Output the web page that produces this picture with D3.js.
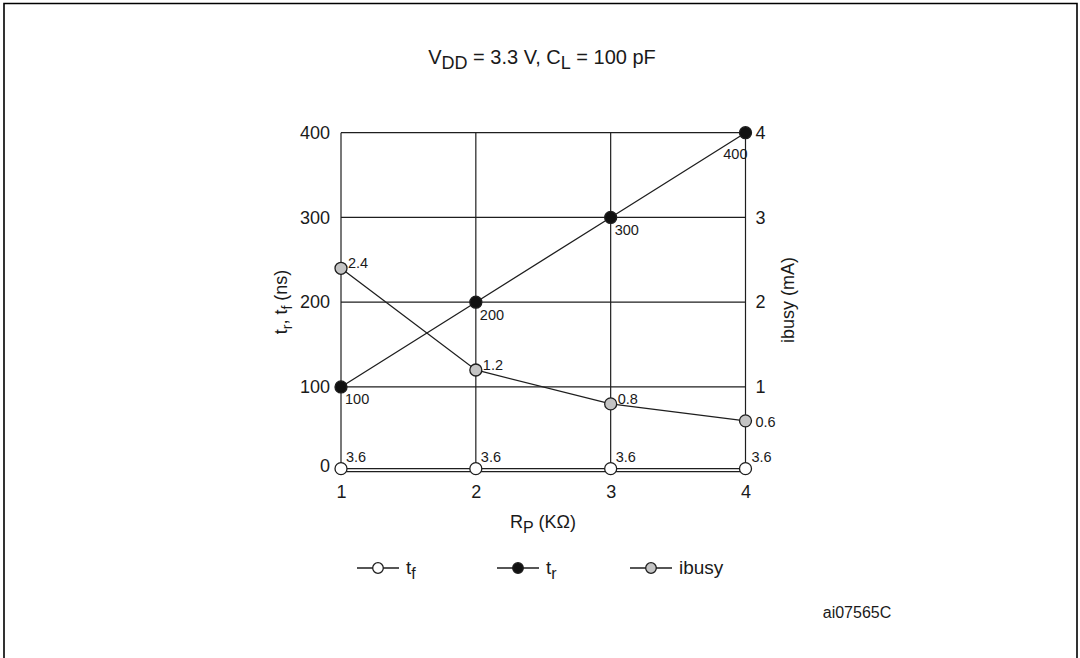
<!DOCTYPE html>
<html>
<head>
<meta charset="utf-8">
<script src="https://cdn.jsdelivr.net/npm/d3@7"></script>
<style>
  html, body { margin: 0; padding: 0; background: #fff; }
  svg text { font-family: "Liberation Sans", Arial, sans-serif; fill: #1a1a1a; }
</style>
</head>
<body>
<svg id="chart" width="1080" height="658"></svg>
<script>
// Pull-up resistance (kOhm) on the x axis
const rp = [1, 2, 3, 4];
// Fall time (ns), rise time (ns) and busy current (mA) at each resistance
const tf = [3.6, 3.6, 3.6, 3.6];
const tr = [100, 200, 300, 400];
const ibusy = [2.4, 1.2, 0.8, 0.6];
// Axis ticks
const leftTicks = [0, 100, 200, 300, 400];
const rightTicks = [1, 2, 3, 4];
const xTicks = [1, 2, 3, 4];

const svg = d3.select("#chart");

// Frame around the figure
svg.append("path")
  .attr("d", "M4,662 L4,3.5 L1077,3.5 L1077,662")
  .attr("fill", "none").attr("stroke", "#000").attr("stroke-width", 1.6);

const x = d3.scaleLinear().domain([1, 4]).range([341, 745.5]);
const y = d3.scaleLinear().domain([0, 400]).range([471.7, 132.7]);
const yR = d3.scaleLinear().domain([0, 4]).range([471.7, 132.7]);

const ink = "#1e1e1e";

// Grid
const grid = svg.append("g").attr("stroke", ink).attr("stroke-width", 1.2);
grid.selectAll("line.v").data(xTicks).join("line")
  .attr("x1", d => x(d)).attr("x2", d => x(d))
  .attr("y1", y(400)).attr("y2", y(0));
grid.selectAll("line.h").data(leftTicks).join("line")
  .attr("x1", x(1)).attr("x2", x(4))
  .attr("y1", d => y(d)).attr("y2", d => y(d));

// Axes (labels only; the grid draws the lines)
const fs = 18;
const leftAxis = svg.append("g").attr("transform", `translate(${x(1)},0)`)
  .call(d3.axisLeft(y).tickValues(leftTicks).tickSize(0).tickPadding(11));
const rightAxis = svg.append("g").attr("transform", `translate(${x(4)},0)`)
  .call(d3.axisRight(yR).tickValues(rightTicks).tickSize(0).tickPadding(10).tickFormat(d3.format("d")));
const bottomAxis = svg.append("g").attr("transform", `translate(0,${y(0)})`)
  .call(d3.axisBottom(x).tickValues(xTicks).tickSize(0).tickPadding(14).tickFormat(d3.format("d")));
[leftAxis, rightAxis, bottomAxis].forEach(g => {
  g.select(".domain").remove();
  g.selectAll("text").attr("font-size", fs)
    .attr("font-family", "'Liberation Sans', Arial, sans-serif").attr("fill", ink);
});
// the zero label sits a little higher, level with the t_f row
leftAxis.selectAll(".tick").filter(d => d === 0).select("text").attr("y", -6);

// Title
const title = svg.append("text").attr("x", 542).attr("y", 64)
  .attr("text-anchor", "middle").attr("font-size", 20);
title.append("tspan").text("V");
title.append("tspan").attr("dy", 5).attr("font-size", 18).text("DD");
title.append("tspan").attr("dy", -5).text(" = 3.3 V, C");
title.append("tspan").attr("dy", 5).attr("font-size", 18).text("L");
title.append("tspan").attr("dy", -5).text(" = 100 pF");

// Left axis title
const lt = svg.append("text").attr("transform", "translate(287,302) rotate(-90)")
  .attr("text-anchor", "middle").attr("font-size", fs);
lt.append("tspan").text("t");
lt.append("tspan").attr("dy", 5).attr("font-size", 14).text("r");
lt.append("tspan").attr("dy", -5).text(", t");
lt.append("tspan").attr("dy", 5).attr("font-size", 14).text("f");
lt.append("tspan").attr("dy", -5).text(" (ns)");

// Right axis title
svg.append("text").attr("transform", "translate(794,300) rotate(-90)")
  .attr("text-anchor", "middle").attr("font-size", fs).text("ibusy (mA)");

// Bottom axis title
const bt = svg.append("text").attr("x", 543).attr("y", 528)
  .attr("text-anchor", "middle").attr("font-size", fs);
bt.append("tspan").text("R");
bt.append("tspan").attr("dy", 5).attr("font-size", 16).text("P");
bt.append("tspan").attr("dy", -5).text(" (K\u03A9)");

// Series
const series = [
  { key: "ibusy", vals: ibusy, sc: yR, fill: "#c4c4c4" },
  { key: "tr", vals: tr, sc: y, fill: "#111" },
  { key: "tf", vals: tf, sc: y, fill: "#fff" }
];
const line = (sc) => d3.line().x((d, i) => x(rp[i])).y(d => sc(d));
series.forEach(s => {
  svg.append("path").datum(s.vals).attr("d", line(s.sc))
    .attr("fill", "none").attr("stroke", ink).attr("stroke-width", 1.3);
});
series.forEach(s => {
  svg.append("g").selectAll("circle").data(s.vals).join("circle")
    .attr("cx", (d, i) => x(rp[i])).attr("cy", d => s.sc(d)).attr("r", 6)
    .attr("fill", s.fill).attr("stroke", ink).attr("stroke-width", 1.3);
});

// Value labels
const lfs = 14.5;
const fmt1 = d3.format(".1f");
svg.append("g").selectAll("text").data(tr).join("text")
  .attr("x", (d, i) => i === 3 ? x(rp[i]) + 2 : x(rp[i]) + 4)
  .attr("y", (d, i) => y(d) + (i === 3 ? 26 : 17.5))
  .attr("text-anchor", (d, i) => i === 3 ? "end" : "start")
  .attr("font-size", lfs).text(d => d);
svg.append("g").selectAll("text").data(ibusy).join("text")
  .attr("x", (d, i) => x(rp[i]) + (i === 3 ? 10 : 7))
  .attr("y", (d, i) => yR(d) + (i === 3 ? 6 : 0))
  .attr("font-size", lfs).text(d => fmt1(d));
svg.append("g").selectAll("text").data(tf).join("text")
  .attr("x", (d, i) => x(rp[i]) + (i === 3 ? 6 : 5))
  .attr("y", d => y(d) - 7)
  .attr("font-size", lfs).text(d => fmt1(d));

// Legend
const legend = [
  { cx: 378, fill: "#fff", main: "t", sub: "f" },
  { cx: 518, fill: "#111", main: "t", sub: "r" },
  { cx: 651, fill: "#c4c4c4", main: "ibusy", sub: null }
];
const ly = 568;
legend.forEach(l => {
  svg.append("line").attr("x1", l.cx - 21).attr("x2", l.cx + 21)
    .attr("y1", ly).attr("y2", ly).attr("stroke", ink).attr("stroke-width", 1.3);
  svg.append("circle").attr("cx", l.cx).attr("cy", ly).attr("r", 5.3)
    .attr("fill", l.fill).attr("stroke", ink).attr("stroke-width", 1.3);
  const t = svg.append("text").attr("x", l.cx + 28).attr("y", ly + 6).attr("font-size", 19);
  t.append("tspan").text(l.main);
  if (l.sub) t.append("tspan").attr("dy", 5).attr("font-size", 16).text(l.sub);
});

// Figure reference
svg.append("text").attr("x", 857).attr("y", 618).attr("text-anchor", "middle")
  .attr("font-size", 16).text("ai07565C");
</script>
</body>
</html>
